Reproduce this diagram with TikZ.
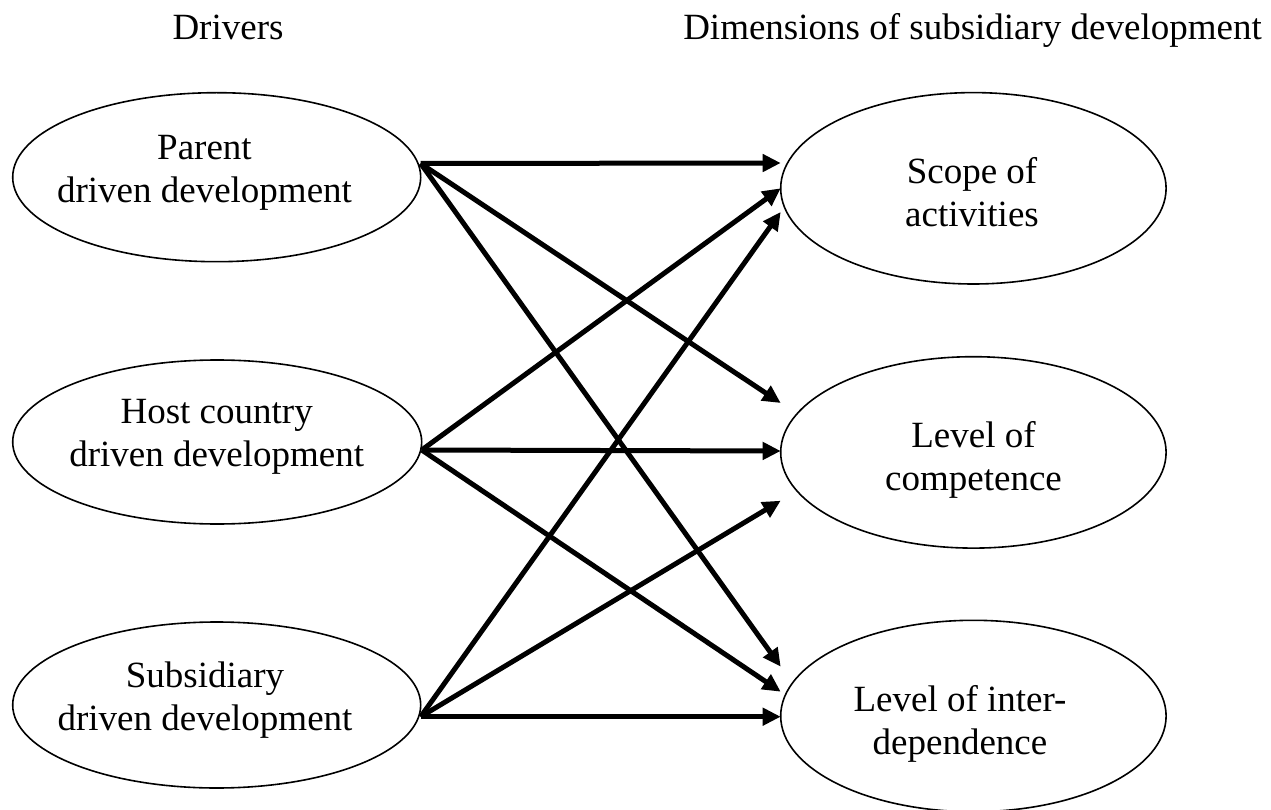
\documentclass[tikz,border=0pt]{standalone}
\usepackage{fontspec}
\setmainfont{Liberation Serif}
\usetikzlibrary{shapes.geometric,arrows.meta}
\begin{document}
\begin{tikzpicture}[x=1pt,y=-1pt,
  ell/.style={draw,ellipse,line width=1.6pt,inner sep=0pt,outer sep=0pt},
  lbl/.style={align=center,inner sep=0pt,font=\fontsize{37}{43}\selectfont},
  head/.style={inner sep=0pt,font=\fontsize{37}{43}\selectfont,anchor=base},
  arr/.style={line width=5pt,-{Triangle[length=18pt,width=17pt]}}]
\useasboundingbox (0,0) rectangle (1271,810);
% headings
\node[head] (hdrive) at (228,40) {Drivers};
\node[head,anchor=base east] (hdim) at (1262,40) {Dimensions of subsidiary development};
% left ellipses
\node[ell,minimum width=408pt,minimum height=169pt] (parent) at (216.7,177.2) {};
\node[ell,minimum width=409pt,minimum height=164pt] (host) at (217.2,442) {};
\node[ell,minimum width=408pt,minimum height=166pt] (subs) at (216.7,705) {};
% right ellipses
\node[ell,minimum width=385.4pt,minimum height=191.4pt] (scope) at (973.4,188.3) {};
\node[ell,minimum width=385.4pt,minimum height=191.4pt] (comp) at (973.4,452.4) {};
\node[ell,minimum width=385.4pt,minimum height=191.4pt] (inter) at (973.4,716) {};
% labels
\node[lbl] (tparent) at (204.5,172.9) {\strut Parent\\\strut driven development};
\node[lbl] (thost) at (216.7,436.4) {\strut Host country\\\strut driven development};
\node[lbl] (tsubs) at (205,699.9) {\strut Subsidiary\\\strut driven development};
\node[lbl] (tscope) at (972,196.2) {\strut Scope of\\\strut activities};
\node[lbl] (tcomp) at (973.5,460.4) {\strut Level of\\\strut competence};
\node[lbl] (tinter) at (960,724.7) {\strut Level of inter-\\\strut dependence};
% arrows from parent
\draw[arr] ([yshift=13.7pt]parent.east) -- ([yshift=25.3pt]scope.west);
\draw[arr] ([yshift=13.7pt]parent.east) -- ([yshift=49.4pt]comp.west);
\draw[arr] ([yshift=13.7pt]parent.east) -- ([yshift=49.3pt]inter.west);
% arrows from host
\draw[arr] ([yshift=-8pt]host.east) -- ([yshift=0pt]scope.west);
\draw[arr] ([yshift=-8pt]host.east) -- ([yshift=1.4pt]comp.west);
\draw[arr] ([yshift=-8pt]host.east) -- ([yshift=24.3pt]inter.west);
% arrows from subsidiary
\draw[arr] ([yshift=-11.7pt]subs.east) -- ([yshift=-23.7pt]scope.west);
\draw[arr] ([yshift=-11.7pt]subs.east) -- ([yshift=-48.3pt]comp.west);
\draw[arr] ([yshift=-11.7pt]subs.east) -- ([yshift=-0.7pt]inter.west);
\end{tikzpicture}
\end{document}
